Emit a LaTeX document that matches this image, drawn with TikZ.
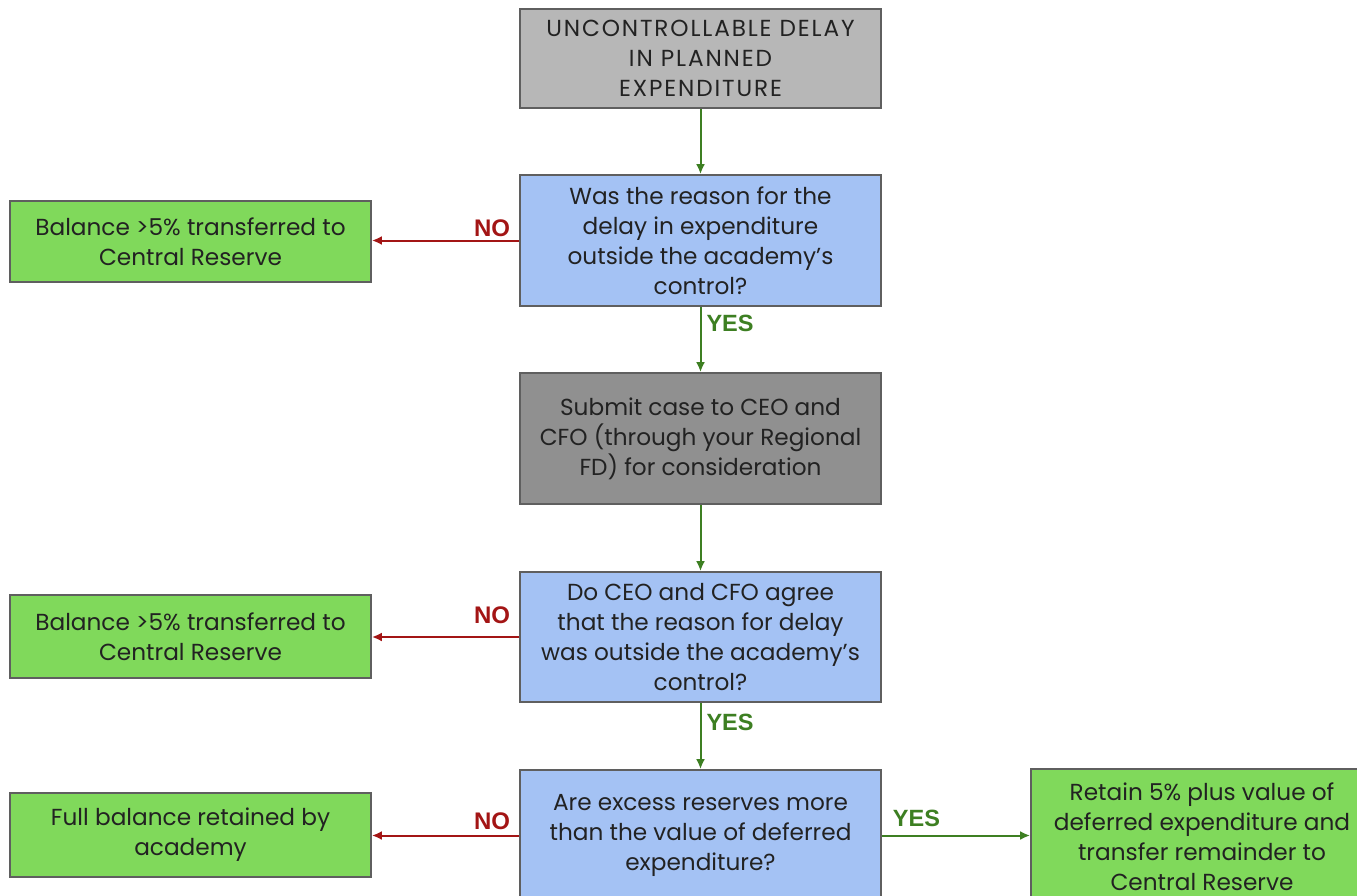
\documentclass[tikz,border=0pt]{standalone}
\usepackage{fontspec}
\setmainfont{Poppins}
\newfontfamily\lblfont{Liberation Sans}
\usetikzlibrary{arrows.meta}
\definecolor{lgray}{HTML}{B7B7B7}
\definecolor{dgray}{HTML}{909090}
\definecolor{qblue}{HTML}{A4C2F4}
\definecolor{rgreen}{HTML}{80D95B}
\definecolor{edgeline}{HTML}{5F5F5F}
\definecolor{nored}{HTML}{A31515}
\definecolor{yesgreen}{HTML}{3D7F22}
\definecolor{txt}{HTML}{222222}
\tikzset{
  box/.style={draw=edgeline, line width=1.8pt, minimum width=361pt, align=center,
    text=txt, inner sep=0pt, font=\fontsize{23.2}{30}\selectfont},
  garrow/.style={draw=yesgreen, line width=2pt, -{Latex[length=10pt,width=9pt]}},
  rarrow/.style={draw=nored, line width=2pt, -{Latex[length=10pt,width=9pt]}},
  nolbl/.style={text=nored, font=\lblfont\bfseries\fontsize{24}{26}\selectfont, inner sep=0pt},
  yeslbl/.style={text=yesgreen, font=\lblfont\bfseries\fontsize{23.5}{26}\selectfont, inner sep=0pt}
}
\begin{document}
\begin{tikzpicture}[x=1pt,y=-1pt]
\useasboundingbox (0,0) rectangle (1357,896);
\clip (0,0) rectangle (1357,896);
\fill[white] (0,0) rectangle (1357,896);
\node[box, fill=lgray, minimum height=99pt, font=\fontsize{23.2}{30}\selectfont\addfontfeature{LetterSpace=8}] (top) at (700.5,58.5) {UNCONTROLLABLE DELAY\\IN PLANNED\\EXPENDITURE};
\node[box, fill=qblue, minimum height=131pt] (q1) at (700.5,240.5) {Was the reason for the\\delay in expenditure\\outside the academy's\\control?};
\node[box, fill=dgray, minimum height=131pt] (sub) at (700.5,438.5) {Submit case to CEO and\\CFO (through your Regional\\FD) for consideration};
\node[box, fill=qblue, minimum height=130pt] (q2) at (700.5,637) {Do CEO and CFO agree\\that the reason for delay\\was outside the academy's\\control?};
\node[box, fill=qblue, minimum height=131pt] (q3) at (700.5,835.5) {Are excess reserves more\\than the value of deferred\\expenditure?};
\node[box, fill=rgreen, minimum height=81pt] (g1) at (190.5,241.5) {Balance >5\% transferred to\\Central Reserve};
\node[box, fill=rgreen, minimum height=83pt] (g2) at (190.5,636.5) {Balance >5\% transferred to\\Central Reserve};
\node[box, fill=rgreen, minimum height=84pt] (g3) at (190.5,835) {Full balance retained by\\academy};
\node[box, fill=rgreen, minimum width=342pt, minimum height=136pt] (g4) at (1202,837) {Retain 5\% plus value of\\deferred expenditure and\\transfer remainder to\\Central Reserve};
\draw[garrow] (top) -- (q1);
\draw[garrow] (q1) -- node[pos=0, yeslbl, anchor=north west, xshift=5pt, yshift=-7pt] {YES} (sub);
\draw[garrow] (sub) -- (q2);
\draw[garrow] (q2) -- node[pos=0, yeslbl, anchor=north west, xshift=5pt, yshift=-10pt] {YES} (q3);
\draw[rarrow] (q1.west) -- node[pos=0, nolbl, anchor=south east, xshift=-8pt, yshift=3pt] {NO} (q1.west -| g1.east);
\draw[rarrow] (q2.west) -- node[pos=0, nolbl, anchor=south east, xshift=-8pt, yshift=12pt] {NO} (q2.west -| g2.east);
\draw[rarrow] (q3.west) -- node[pos=0, nolbl, anchor=south east, xshift=-8pt, yshift=5pt] {NO} (q3.west -| g3.east);
\draw[garrow] (q3.east) -- node[pos=0, yeslbl, anchor=south west, xshift=10pt, yshift=8pt] {YES} (q3.east -| g4.west);
\end{tikzpicture}
\end{document}
